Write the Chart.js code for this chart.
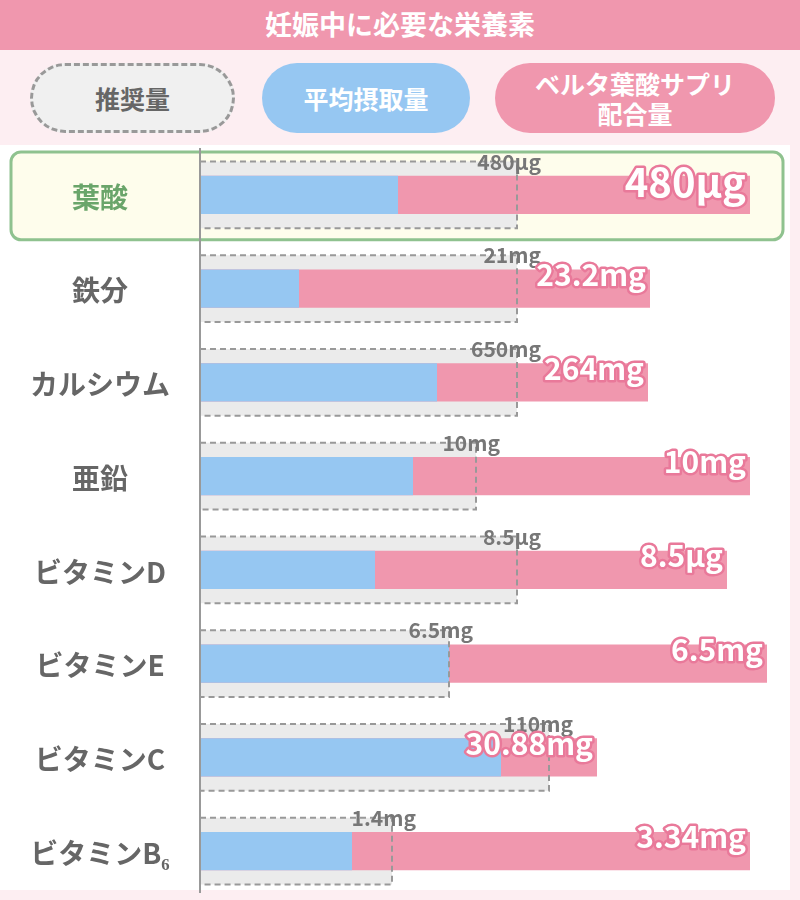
<!DOCTYPE html>
<html><head><meta charset="utf-8">
<script src="https://cdn.jsdelivr.net/npm/chart.js@4/dist/chart.umd.min.js"></script>
<style>
body{margin:0;width:800px;height:900px;background:#fdeef2;font-family:"Noto Sans CJK JP",sans-serif;position:relative;overflow:hidden}
#title{position:absolute;left:0;top:0;width:800px;height:50px;background:#f097ae;color:#fff;font-weight:bold;font-size:27px;text-align:center;line-height:48px}
.pill{position:absolute;top:63px;height:70px;border-radius:35px;display:flex;align-items:center;justify-content:center;text-align:center;font-weight:bold;font-size:25px;line-height:30px;box-sizing:border-box}
#p1{left:30px;width:205px;background:#f0f0f0;border:3px dashed #999;color:#666}
#p2{left:262px;width:208px;background:#96c7f2;color:#fff}
#p3{left:495px;width:280px;background:#f097ae;color:#fff}
#panel{position:absolute;left:0;top:145px;width:790px;height:745px;background:#fff}
#wrap{position:absolute;left:0;top:148px;width:800px;height:750px}
</style></head><body>
<div id="title">妊娠中に必要な栄養素</div>
<div class="pill" id="p1">推奨量</div>
<div class="pill" id="p2">平均摂取量</div>
<div class="pill" id="p3">ベルタ葉酸サプリ<br>配合量</div>
<div id="panel"></div>
<div id="wrap"><canvas id="c" width="800" height="750"></canvas></div>
<script>
const categories=["葉酸","鉄分","カルシウム","亜鉛","ビタミンD","ビタミンE","ビタミンC","ビタミンB₆"];
const recommended=[317,317,317,276,317,249,349,192];
const belta=[550,450,448,550,527,567,397,550];
const average=[198,99,237,213,175,249,301,152];
const recLabels=["480μg","21mg","650mg","10mg","8.5μg","6.5mg","110mg","1.4mg"];
const beltaLabels=["480μg","23.2mg","264mg","10mg","8.5μg","6.5mg","30.88mg","3.34mg"];

const deco={id:'deco',
 beforeDatasetsDraw(ch){
  const c=ch.ctx,y=ch.scales.y;
  const yc=y.getPixelForValue(0),h=y.getPixelForValue(1)-yc;
  c.save();
  c.fillStyle='#fefdec';c.strokeStyle='#8fc28f';c.lineWidth=3;
  c.beginPath();c.roundRect(11,yc-h/2+4,772,h-6,10);c.fill();c.stroke();
  c.restore();
 },
 afterDatasetsDraw(ch){
  const c=ch.ctx,a=ch.chartArea,y=ch.scales.y;
  c.save();
  c.textAlign='center';c.textBaseline='middle';
  categories.forEach((l,i)=>{c.font='bold 28px "Noto Sans CJK JP"';c.fillStyle=i===0?'#6aa56a':'#666';
   c.fillText(l,100,y.getPixelForValue(i)+2);});
  const gm=ch.getDatasetMeta(0);
  c.strokeStyle='#999';c.lineWidth=2;c.setLineDash([6,4]);
  gm.data.forEach(b=>{const t=b.y-b.height/2;c.strokeRect(b.base,t,b.x-b.base,b.height);});
  c.setLineDash([]);
  c.beginPath();c.moveTo(a.left,a.top-3);c.lineTo(a.left,a.bottom-5);c.stroke();
  c.textAlign='right';
  gm.data.forEach((b,i)=>{c.font='bold 21px "Noto Sans CJK JP"';c.fillStyle='#777';
   c.fillText(recLabels[i],b.x+24,b.y-b.height/2);});
  const pm=ch.getDatasetMeta(1);
  pm.data.forEach((b,i)=>{
   const big=i===0;c.font='bold '+(big?40:30)+'px "Noto Sans CJK JP"';
   c.lineJoin='round';c.strokeStyle='#e9799a';c.lineWidth=5;c.fillStyle='#fff';
   const yy=b.y-b.height/2+(big?6:5);
   c.strokeText(beltaLabels[i],b.x-4,yy);c.fillText(beltaLabels[i],b.x-4,yy);
  });
  c.restore();
 }};

new Chart(document.getElementById('c'),{type:'bar',
 data:{labels:categories,datasets:[
  {data:recommended,backgroundColor:'#ebebeb',barPercentage:0.71,categoryPercentage:1,grouped:false,order:3},
  {data:belta,backgroundColor:'#f097ae',barPercentage:0.41,categoryPercentage:1,grouped:false,order:2},
  {data:average,backgroundColor:'#96c7f2',barPercentage:0.41,categoryPercentage:1,grouped:false,order:1}]},
 options:{indexAxis:'y',responsive:false,animation:false,layout:{padding:{top:0,bottom:0,right:10}},
  plugins:{legend:{display:false},tooltip:{enabled:false}},
  scales:{
   x:{min:0,max:590,display:false},
   y:{grid:{display:false},border:{display:false},
      afterFit(s){s.width=200;s.paddingTop=0;s.paddingBottom=0;},
      ticks:{display:false}}}},
 plugins:[deco]});
</script></body></html>
